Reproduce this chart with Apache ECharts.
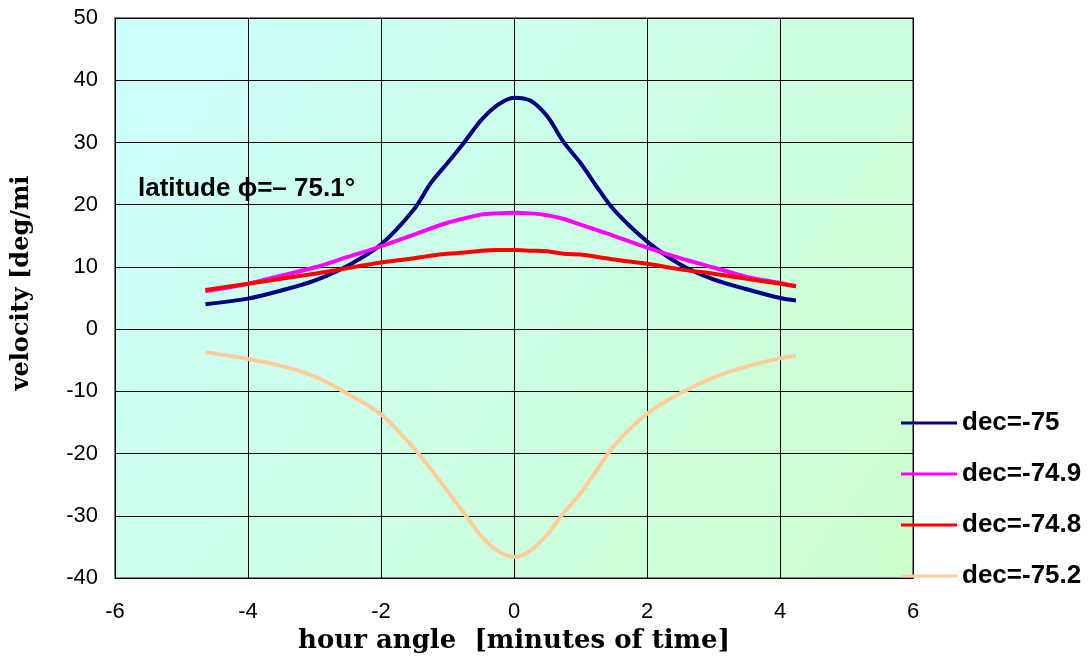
<!DOCTYPE html>
<html>
<head>
<meta charset="utf-8">
<script src="https://cdn.jsdelivr.net/npm/echarts@6/dist/echarts.min.js"></script>
<style>
html,body{margin:0;padding:0;background:#fff;}
#chart{width:1089px;height:659px;}
</style>
</head>
<body>
<div id="chart"></div>
<script>
const hourAngle = [-4.64, -4.0, -3.5, -3.0, -2.5, -2.0, -1.5, -1.25, -1.0, -0.75, -0.5, -0.25, 0, 0.25, 0.5, 0.75, 1.0, 1.25, 1.5, 2.0, 2.5, 3.0, 3.5, 4.0, 4.24];
const dec75   = [4.0, 4.9, 6.2, 7.8, 10.2, 13.6, 19.3, 23.5, 26.7, 30.0, 33.5, 36.0, 37.2, 36.7, 34.2, 30.0, 26.7, 22.8, 19.2, 14.1, 10.4, 8.0, 6.4, 5.0, 4.6];
const dec749  = [6.1, 7.3, 8.6, 9.9, 11.6, 13.3, 15.2, 16.2, 17.1, 17.8, 18.4, 18.6, 18.7, 18.6, 18.3, 17.7, 16.8, 15.9, 15.0, 13.1, 11.4, 9.9, 8.4, 7.4, 6.9];
const dec748  = [6.3, 7.3, 8.1, 8.9, 9.8, 10.7, 11.4, 11.8, 12.1, 12.3, 12.6, 12.7, 12.7, 12.6, 12.5, 12.1, 12.0, 11.6, 11.2, 10.5, 9.6, 8.9, 8.1, 7.3, 6.9];
const dec752  = [-3.7, -4.8, -5.9, -7.6, -10.4, -13.7, -19.2, -22.5, -26.0, -29.6, -33.2, -35.6, -36.6, -35.6, -33.0, -29.5, -26.4, -22.6, -18.8, -13.6, -10.3, -7.8, -6.0, -4.7, -4.3];
const seriesNames = ['dec=-75', 'dec=-74.9', 'dec=-74.8', 'dec=-75.2'];
const seriesColors = ['#000080', '#FF00FF', '#FF0000', '#FFCC99'];
const seriesValues = [dec75, dec749, dec748, dec752];

const chart = echarts.init(document.getElementById('chart'));
const pair = vals => hourAngle.map((h, i) => [h, vals[i]]);

chart.setOption({
  animation: false,
  backgroundColor: '#fff',
  grid: {
    left: 115, top: 18, right: 176, bottom: 81,
    show: true,
    borderColor: '#808080', borderWidth: 2,
    backgroundColor: {
      type: 'linear', x: 0, y: 0, x2: 1, y2: 1,
      colorStops: [{offset: 0, color: '#CCFFFF'}, {offset: 1, color: '#CCFFCC'}]
    }
  },
  xAxis: {
    type: 'value', min: -6, max: 6, interval: 2,
    axisLine: {show: false}, axisTick: {show: false},
    splitLine: {show: true, lineStyle: {color: '#000', width: 1}},
    axisLabel: {fontSize: 22, color: '#000', fontFamily: 'Liberation Sans, Arial', margin: 23},
    name: 'hour angle  [minutes of time]',
    nameLocation: 'middle', nameGap: 50,
    nameTextStyle: {fontSize: 26, fontWeight: 'bold', fontFamily: 'DejaVu Serif', color: '#000'}
  },
  yAxis: {
    type: 'value', min: -40, max: 50, interval: 10,
    axisLine: {show: false}, axisTick: {show: false},
    splitLine: {show: true, lineStyle: {color: '#000', width: 1}},
    axisLabel: {fontSize: 22, color: '#000', fontFamily: 'Liberation Sans, Arial', margin: 17}
  },
  legend: {
    orient: 'vertical', left: 896, top: 405,
    itemWidth: 56, itemHeight: 26, itemGap: 25,
    data: seriesNames.map((n, i) => ({name: n, icon: 'path://M0,10 L56,10 L56,13 L0,13 Z', itemStyle: {color: seriesColors[i]}})),
    textStyle: {fontSize: 26, fontWeight: 'bold', color: '#000', fontFamily: 'Liberation Sans, Arial', lineHeight: 26, padding: [0, 0, 0, 0]}
  },
  graphic: [
    {type: 'text', left: 138, top: 176, style: {text: 'latitude ϕ=– 75.1°', fontSize: 26, fontWeight: 'bold', fill: '#000', fontFamily: 'Liberation Sans, Arial'}},
    {type: 'text', x: 22, y: 283, rotation: Math.PI / 2, style: {text: 'velocity [deg/mi', fontSize: 24, fontWeight: 'bold', fill: '#000', fontFamily: 'DejaVu Serif', align: 'center', verticalAlign: 'middle'}}
  ],
  series: seriesValues.map((vals, i) => ({
    name: seriesNames[i], type: 'line', data: pair(vals),
    symbol: 'none', smooth: 0.3,
    lineStyle: {color: seriesColors[i], width: 4},
    itemStyle: {color: seriesColors[i]}
  }))
});
</script>
</body>
</html>
